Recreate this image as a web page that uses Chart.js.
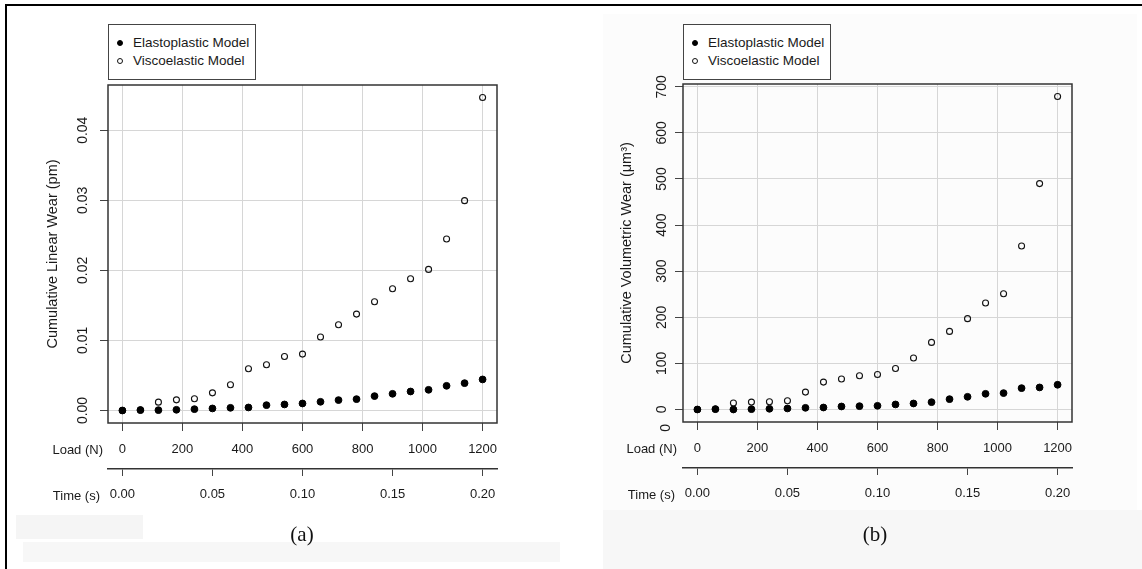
<!DOCTYPE html>
<html>
<head>
<meta charset="utf-8">
<script src="https://cdn.jsdelivr.net/npm/chart.js@4.4.1/dist/chart.umd.min.js"></script>
<style>
  body { margin: 0; background: #fff; }
  #page { position: relative; width: 1142px; height: 569px; overflow: hidden;
          font-family: 'Liberation Sans', Arial, sans-serif; color: #1a1a1a; }
  canvas { position: absolute; top: 0; }
  .shade { position: absolute; }
  .edge { position: absolute; background: #000; }
  .legend { position: absolute; border: 1.5px solid #444; background: #fff; box-sizing: border-box;
            font-size: 13.5px; }
  .legend .row { position: absolute; left: 0; height: 18px; line-height: 18px; white-space: nowrap; }
  .legend .dot { position: absolute; border-radius: 50%; box-sizing: border-box; }
  .caption { position: absolute; width: 100px; text-align: center; line-height: 24px;
             font-family: 'Liberation Serif', 'Times New Roman', serif; font-size: 21px; color: #111; }
</style>
</head>
<body>
<div id="page">
  <div class="shade" style="left:603px;top:14px;width:534px;height:555px;background:#fcfcfc"></div>
  <div class="shade" style="left:603px;top:510px;width:539px;height:59px;background:#f7f7f7"></div>
  <div class="shade" style="left:16px;top:515px;width:127px;height:24px;background:#f5f5f5"></div>
  <div class="shade" style="left:23px;top:542px;width:537px;height:20px;background:#f7f7f7"></div>
  <canvas id="panelA" width="571" height="569" style="left:0"></canvas>
  <canvas id="panelB" width="571" height="569" style="left:571px"></canvas>
  <div class="edge" style="left:6px;top:4px;width:1136px;height:2px"></div>
  <div class="edge" style="left:5px;top:4px;width:2px;height:565px"></div>
  <div class="caption" style="left:252px;top:522px">(a)</div>
  <div class="caption" style="left:825px;top:522px">(b)</div>
</div>
<script>
var seriesNames = ['Elastoplastic Model', 'Viscoelastic Model'];

// load steps (N), shared by both panels
var loadN = [0, 60, 120, 180, 240, 300, 360, 420, 480, 540, 600, 660, 720, 780, 840, 900, 960, 1020, 1080, 1140, 1200];

// panel (a): cumulative linear wear
var linearElasto = [0, 0.00005, 0.00005, 0.0001, 0.00019, 0.00029, 0.00038, 0.00043, 0.00076, 0.00086, 0.001,
                    0.00124, 0.00148, 0.00162, 0.00205, 0.00238, 0.00271, 0.00295, 0.00352, 0.0039, 0.00443];
var linearVisco = [0, 0.0001, 0.00119, 0.00152, 0.00167, 0.00252, 0.00367, 0.00595, 0.00652, 0.00771, 0.00805,
                   0.01048, 0.01224, 0.01376, 0.01552, 0.01738, 0.01881, 0.02014, 0.02448, 0.02995, 0.04467];

// panel (b): cumulative volumetric wear
var volElasto = [0, 0.7, 0, 0.7, 1.5, 2.2, 3.6, 4.3, 6.5, 7.2, 8, 10.9, 13, 15.9, 22.4, 27.5, 34, 35.5, 46.3, 47.8, 53.6];
var volVisco = [0, 1, 13.9, 16, 16.7, 18.9, 37.7, 59.4, 66, 73.2, 76, 89, 111.6, 145.5, 169.4, 197, 231, 251,
                354.7, 490, 678.9];

// tick labels
var loadTicks = [0, 200, 400, 600, 800, 1000, 1200];
var timeTicks = [0, 0.05, 0.10, 0.15, 0.20];
var linearTicks = [0, 0.01, 0.02, 0.03, 0.04];
var volTicks = [0, 100, 200, 300, 400, 500, 600, 700];

var textcolor = '#1a1a1a';
var gridcolor = '#d6d6d6';
var tickcolor = '#444';
var fontFamily = "'Liberation Sans', Arial, sans-serif";

// R style range: data range padded by 4% on each side
function padRange(values) {
    var lo = Math.min.apply(null, values), hi = Math.max.apply(null, values);
    var d = (hi - lo) * 0.04;
    return { min: lo - d, max: hi + d };
}

function pairs(xs, ys) {
    var out = [];
    for (let i = 0; i < xs.length; i++) {
        out.push({ x: xs[i], y: ys[i] });
    }
    return out;
}

function fixedTicks(list) {
    return function (scale) {
        scale.ticks = list.map(function (v) { return { value: v }; });
    };
}

// Draws the plot box and the row names left of the two x axes.
var framePlugin = {
    id: 'frame',
    afterDraw: function (chart, args, opts) {
        var ctx = chart.ctx;
        var a = chart.chartArea;
        ctx.save();
        ctx.strokeStyle = '#333';
        ctx.lineWidth = 1.5;
        ctx.strokeRect(a.left, a.top, a.right - a.left, a.bottom - a.top);

        ctx.fillStyle = textcolor;
        ctx.font = '13px ' + fontFamily;
        ctx.textAlign = 'right';
        ctx.textBaseline = 'middle';
        ctx.fillText('Load (N)', a.left - opts.loadGap, chart.scales.x.top + 27);
        ctx.fillText('Time (s)', a.left - opts.timeGap, chart.scales.time.top + 27);

        if (opts.strayZero) {
            var ys = chart.scales.y;
            ctx.translate(ys.right - 17, ys.getPixelForValue(opts.strayZero));
            ctx.rotate(-Math.PI / 2);
            ctx.textAlign = 'center';
            ctx.font = '14px ' + fontFamily;
            ctx.fillText('0', 0, 0);
        }
        ctx.restore();
    }
};

function buildLegend(chart, top) {
    var page = document.getElementById('page');
    var canvasLeft = chart.canvas.offsetLeft;
    var box = document.createElement('div');
    box.className = 'legend';
    box.style.left = (canvasLeft + chart.chartArea.left) + 'px';
    box.style.top = top + 'px';
    box.style.width = '148px';
    box.style.height = '56px';
    chart.data.datasets.forEach(function (ds, i) {
        var row = document.createElement('div');
        row.className = 'row';
        row.style.top = (9 + i * 18) + 'px';
        var dot = document.createElement('div');
        dot.className = 'dot';
        var r = ds.pointRadius;
        dot.style.width = dot.style.height = (2 * r) + 'px';
        dot.style.left = (11 - r) + 'px';
        dot.style.top = (9 - r) + 'px';
        dot.style.background = ds.backgroundColor;
        dot.style.border = ds.borderWidth + 'px solid ' + ds.borderColor;
        var label = document.createElement('span');
        label.textContent = ds.label;
        label.style.position = 'absolute';
        label.style.left = '24px';
        row.appendChild(dot);
        row.appendChild(label);
        box.appendChild(row);
    });
    page.appendChild(box);
}

function buildPanel(canvasId, panel) {
    var xr = padRange(loadN);
    var yr = padRange(panel.elasto.concat(panel.visco));
    var tr = padRange([0, timeTicks[timeTicks.length - 1]]);

    const config = {
        type: 'scatter',
        data: {
            datasets: [{
                label: seriesNames[0],
                data: pairs(loadN, panel.elasto),
                pointRadius: 3.4,
                backgroundColor: '#000',
                borderColor: '#000',
                borderWidth: 1
            }, {
                label: seriesNames[1],
                data: pairs(loadN, panel.visco),
                pointRadius: 3,
                backgroundColor: 'rgba(0,0,0,0)',
                borderColor: '#111',
                borderWidth: 1.1
            }]
        },
        options: {
            responsive: false,
            animation: false,
            layout: { padding: panel.padding },
            plugins: {
                legend: { display: false },
                tooltip: { enabled: false },
                frame: panel.frame
            },
            scales: {
                x: {
                    type: 'linear',
                    position: 'bottom',
                    weight: 0,
                    min: xr.min,
                    max: xr.max,
                    afterBuildTicks: fixedTicks(loadTicks),
                    afterFit: function (s) { s.height = 46; },
                    ticks: {
                        color: textcolor,
                        font: { family: fontFamily, size: 13 },
                        padding: 11,
                        maxRotation: 0,
                        autoSkip: false,
                        callback: function (v) { return String(v); }
                    },
                    grid: {
                        color: gridcolor,
                        tickColor: tickcolor,
                        tickLength: 8
                    },
                    border: { display: false }
                },
                time: {
                    type: 'linear',
                    position: 'bottom',
                    weight: 1,
                    min: tr.min,
                    max: tr.max,
                    afterBuildTicks: fixedTicks(timeTicks),
                    afterFit: function (s) { s.height = 41; },
                    ticks: {
                        color: textcolor,
                        font: { family: fontFamily, size: 13 },
                        padding: 11,
                        maxRotation: 0,
                        autoSkip: false,
                        callback: function (v) { return v.toFixed(2); }
                    },
                    grid: {
                        drawOnChartArea: false,
                        tickColor: tickcolor,
                        tickLength: 7
                    },
                    border: { display: true, color: '#333', width: 1.5 }
                },
                y: {
                    type: 'linear',
                    min: yr.min,
                    max: yr.max,
                    afterBuildTicks: fixedTicks(panel.yTicks),
                    afterFit: function (s) { s.width = 68; },
                    title: {
                        display: true,
                        text: panel.yTitle,
                        color: textcolor,
                        font: { family: fontFamily, size: 14.5 },
                        padding: { top: panel.titlePad, bottom: 0 }
                    },
                    ticks: {
                        color: textcolor,
                        font: { family: fontFamily, size: 14 },
                        minRotation: 90,
                        maxRotation: 90,
                        crossAlign: 'center',
                        padding: panel.tickPad,
                        autoSkip: false,
                        callback: panel.yFormat
                    },
                    grid: {
                        color: gridcolor,
                        tickColor: tickcolor,
                        tickLength: 8
                    },
                    border: { display: false }
                }
            }
        },
        plugins: [framePlugin]
    };

    var chart = new Chart(document.getElementById(canvasId), config);
    buildLegend(chart, panel.legendTop);
    return chart;
}

buildPanel('panelA', {
    elasto: linearElasto,
    visco: linearVisco,
    yTicks: linearTicks,
    yTitle: 'Cumulative Linear Wear (pm)',
    yFormat: function (v) { return v.toFixed(2); },
    padding: { left: 40, top: 85, right: 74, bottom: 59 },
    titlePad: 4,
    tickPad: 3,
    legendTop: 24,
    frame: { loadGap: 5, timeGap: 8 }
});

buildPanel('panelB', {
    elasto: volElasto,
    visco: volVisco,
    yTicks: volTicks,
    yTitle: 'Cumulative Volumetric Wear (\u03bcm\u00b3)',
    yFormat: function (v) { return String(v); },
    padding: { left: 44, top: 84, right: 70, bottom: 60 },
    titlePad: 3,
    tickPad: 1,
    legendTop: 24,
    frame: { loadGap: 6, timeGap: 8, strayZero: -40 }
});
</script>
</body>
</html>
